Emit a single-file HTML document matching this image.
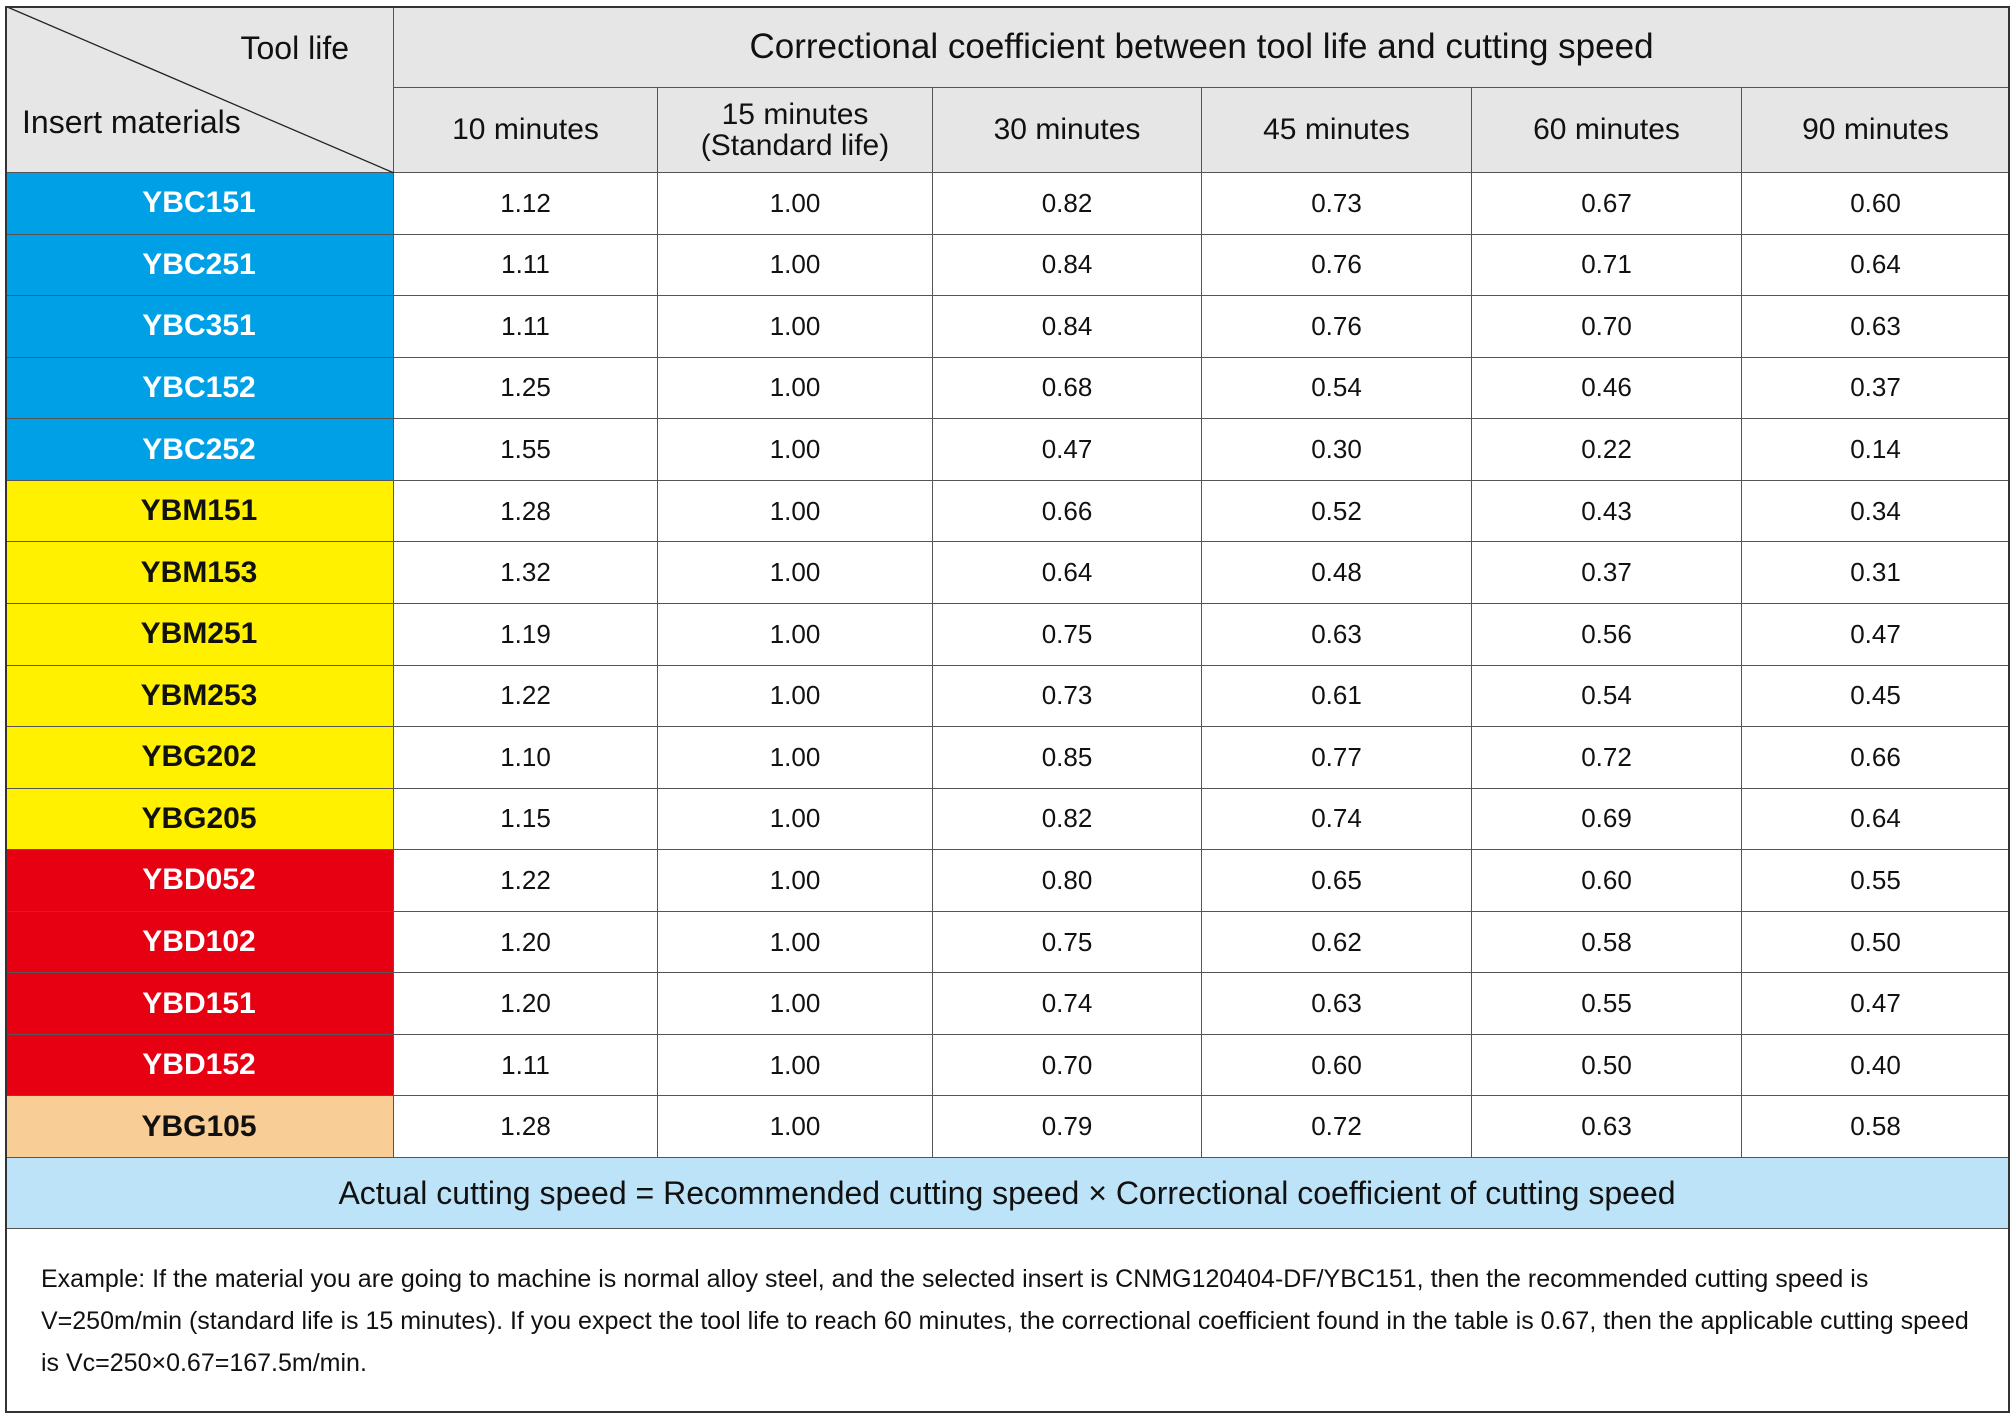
<!DOCTYPE html>
<html><head><meta charset="utf-8">
<style>
html,body{margin:0;padding:0;background:#fff;}
#wrap{position:relative;width:2014px;height:1417px;overflow:hidden;font-family:"Liberation Sans",sans-serif;}
.c{position:absolute;box-sizing:border-box;display:flex;align-items:center;justify-content:center;text-align:center;color:#111;border-right:1px solid #555;border-bottom:1px solid #555;}
</style></head>
<body>
<div id="wrap"></div>
<script>
const materials=["YBC151","YBC251","YBC351","YBC152","YBC252","YBM151","YBM153","YBM251","YBM253","YBG202","YBG205","YBD052","YBD102","YBD151","YBD152","YBG105"];
const groups=["b","b","b","b","b","y","y","y","y","y","y","r","r","r","r","o"];
const columns=["10 minutes","15 minutes<br>(Standard life)","30 minutes","45 minutes","60 minutes","90 minutes"];
const v10=["1.12","1.11","1.11","1.25","1.55","1.28","1.32","1.19","1.22","1.10","1.15","1.22","1.20","1.20","1.11","1.28"];
const v15=["1.00","1.00","1.00","1.00","1.00","1.00","1.00","1.00","1.00","1.00","1.00","1.00","1.00","1.00","1.00","1.00"];
const v30=["0.82","0.84","0.84","0.68","0.47","0.66","0.64","0.75","0.73","0.85","0.82","0.80","0.75","0.74","0.70","0.79"];
const v45=["0.73","0.76","0.76","0.54","0.30","0.52","0.48","0.63","0.61","0.77","0.74","0.65","0.62","0.63","0.60","0.72"];
const v60=["0.67","0.71","0.70","0.46","0.22","0.43","0.37","0.56","0.54","0.72","0.69","0.60","0.58","0.55","0.50","0.63"];
const v90=["0.60","0.64","0.63","0.37","0.14","0.34","0.31","0.47","0.45","0.66","0.64","0.55","0.50","0.47","0.40","0.58"];
const W=document.getElementById('wrap');
const xs=[5,394,658,933,1202,1472,1742,2010];
const T=6,H1=88,H2=173,RE=1158,BE=1229,BOT=1413;
const rh=(RE-H2)/materials.length;
const colors={b:["#00a0e6","#fff"],y:["#fff100","#111"],r:["#e60012","#fff"],o:["#f9cd96","#111"]};
function cell(x,y,w,h,html,bg,fs,name){
 const d=document.createElement('div');
 d.className='c';
 d.style.cssText=`left:${x}px;top:${y}px;width:${w}px;height:${h}px;background:${bg};font-size:${fs}px;`;
 d.innerHTML=html;
 
 
 W.appendChild(d);return d;
}
// corner
const corner=cell(xs[0],T,xs[1]-xs[0],H2-T,'','#e6e6e6',32,'corner-header');
corner.innerHTML=`<svg width="${xs[1]-xs[0]}" height="${H2-T}" style="position:absolute;left:0;top:0"><line x1="0" y1="0" x2="${xs[1]-xs[0]}" y2="${H2-T}" stroke="#222" stroke-width="1.3"/></svg><span style="position:absolute;right:44px;top:24px">Tool life</span><span style="position:absolute;left:17px;top:98px">Insert materials</span>`;
cell(xs[1],T,xs[7]-xs[1],H1-T,'Correctional coefficient between tool life and cutting speed','#e6e6e6',35,'coefficient-header');
columns.forEach((c,i)=>{const d=cell(xs[i+1],H1,xs[i+2]-xs[i+1],H2-H1,c,'#e6e6e6',30,'column-header');d.style.lineHeight='1.05';});
const vals=[v10,v15,v30,v45,v60,v90];
materials.forEach((m,r)=>{
 const y=H2+r*rh;
 const [bg,fg]=colors[groups[r]];
 const d=cell(xs[0],y,xs[1]-xs[0],rh,m,bg,30,'material-'+m.toLowerCase());
 d.style.color=fg;d.style.fontWeight='bold';
 vals.forEach((arr,i)=>cell(xs[i+1],y,xs[i+2]-xs[i+1],rh,arr[r],'#fff',26,'value-cell'));
});
cell(xs[0],RE,xs[7]-xs[0],BE-RE,'Actual cutting speed = Recommended cutting speed × Correctional coefficient of cutting speed','#bce3f8',32,'formula-band');
const f=cell(xs[0],BE,xs[7]-xs[0],BOT-BE,'Example: If the material you are going to machine is normal alloy steel, and the selected insert is CNMG120404-DF/YBC151, then the recommended cutting speed is V=250m/min (standard life is 15 minutes). If you expect the tool life to reach 60 minutes, the correctional coefficient found in the table is 0.67, then the applicable cutting speed is Vc=250×0.67=167.5m/min.','#fff',25,'example-note');
f.style.justifyContent='flex-start';f.style.textAlign='left';f.style.padding='0 36px 0 36px';f.style.lineHeight='42px';
const o=document.createElement('div');
o.style.cssText=`position:absolute;left:${xs[0]}px;top:${T}px;width:${xs[7]-xs[0]}px;height:${BOT-T}px;border:2px solid #333;box-sizing:border-box;pointer-events:none`;


W.appendChild(o);
</script>
</body></html>
